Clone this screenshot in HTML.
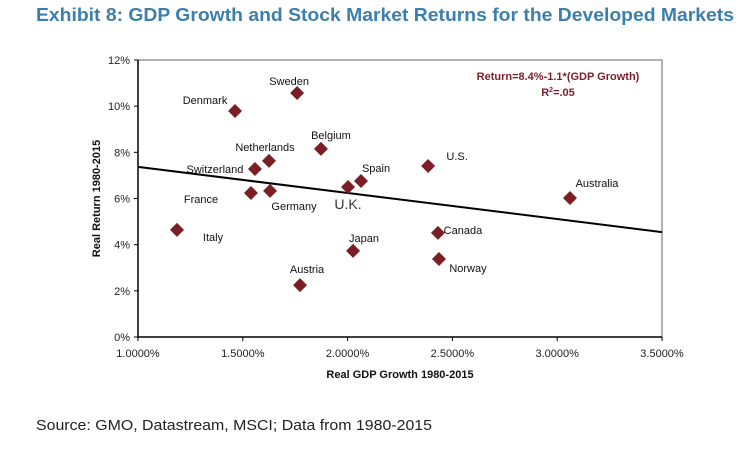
<!DOCTYPE html>
<html><head><meta charset="utf-8"><style>
body{margin:0;background:#fff;width:756px;height:446px;overflow:hidden;font-family:"Liberation Sans",sans-serif}
</style></head><body>
<svg id="chart" width="756" height="446" xmlns="http://www.w3.org/2000/svg">
<text x="36" y="21" font-size="18" font-weight="bold" fill="#3c7fae" textLength="698" lengthAdjust="spacingAndGlyphs">Exhibit 8: GDP Growth and Stock Market Returns for the Developed Markets</text>
<text x="36" y="430" font-size="15" fill="#222" textLength="396" lengthAdjust="spacingAndGlyphs">Source: GMO, Datastream, MSCI; Data from 1980-2015</text>
<g id="plot"></g>
</svg>
<script>
const countries=["Denmark","Sweden","Netherlands","Belgium","Switzerland","France","Germany","Italy","Austria","U.K.","Spain","Japan","U.S.","Canada","Norway","Australia"];
const gdpGrowth=[1.463,1.759,1.625,1.873,1.558,1.539,1.630,1.186,1.773,2.002,2.064,2.026,2.384,2.431,2.436,3.061];
const realReturn=[9.79,10.57,7.63,8.15,7.28,6.24,6.33,4.64,2.25,6.50,6.76,3.73,7.41,4.51,3.38,6.02];
const labelDx=[-30,-8,-4,10,-40,-50,24,36,7,0,15,11,29,25,29,27];
const labelDy=[-11,-12,-14,-14,0,6,15,7,-16,18,-13,-13,-10,-3,9,-15];
const xTicks=[1.0,1.5,2.0,2.5,3.0,3.5];
const yTicks=[0,2,4,6,8,10,12];
const trend=[8.5,-1.13];
const L=138,R=662,T=60,B=337;
const xs=v=>L+(v-1.0)/2.5*(R-L);
const ys=v=>B-v/12*(B-T);
const g=document.getElementById('plot');
const NS="http://www.w3.org/2000/svg";
function mk(t,a){const e=document.createElementNS(NS,t);for(const k in a)e.setAttribute(k,a[k]);g.appendChild(e);return e;}
let e=mk('path',{d:`M${L},${T}H${R}V${B}`,fill:'none',stroke:'#999','stroke-width':1.5});


e=mk('path',{d:`M${L},${T}V${B}H${R}`,fill:'none',stroke:'#000','stroke-width':1.5});


yTicks.forEach(v=>{
 const l=mk('line',{x1:L-4,x2:L,y1:ys(v),y2:ys(v),stroke:'#000'});
 
 
 const t=mk('text',{x:L-8,y:ys(v)+4,'font-size':11,'text-anchor':'end',fill:'#222'});
 t.textContent=v+'%';
 
 
});
xTicks.forEach(v=>{
 const l=mk('line',{x1:xs(v),x2:xs(v),y1:B,y2:B+4,stroke:'#000'});
 
 
 const t=mk('text',{x:xs(v),y:B+20,'font-size':11,'text-anchor':'middle',fill:'#222'});
 t.textContent=v.toFixed(4)+'%';
 
 
});
e=mk('line',{x1:xs(1.0),y1:ys(trend[0]+trend[1]*1.0),x2:xs(3.5),y2:ys(trend[0]+trend[1]*3.5),stroke:'#000','stroke-width':2});


countries.forEach((c,i)=>{
 const x=xs(gdpGrowth[i]),y=ys(realReturn[i]);
 const p=mk('path',{d:`M${x},${y-7}L${x+7},${y}L${x},${y+7}L${x-7},${y}Z`,fill:'#7b1f24'});
 
 
 const uk=c==='U.K.';
 const t=mk('text',{x:x+labelDx[i],y:y+labelDy[i]+4,'font-size':uk?14:11,'text-anchor':'middle',fill:uk?'#333':'#111'});
 t.textContent=c;
 
 
});
e=mk('text',{x:558,y:80,'font-size':11,'font-weight':'bold','text-anchor':'middle',fill:'#7b1f2e'});
e.textContent='Return=8.4%-1.1*(GDP Growth)';


e=mk('text',{x:558,y:96,'font-size':11,'font-weight':'bold','text-anchor':'middle',fill:'#7b1f2e'});
e.innerHTML='R<tspan font-size="7" dy="-4">2</tspan><tspan dy="4">=.05</tspan>';


e=mk('text',{x:400,y:378,'font-size':11,'font-weight':'bold','text-anchor':'middle',fill:'#111'});
e.textContent='Real GDP Growth 1980-2015';


e=mk('text',{x:0,y:0,'font-size':11,'font-weight':'bold','text-anchor':'middle',fill:'#111',transform:`translate(100,${(T+B)/2}) rotate(-90)`});
e.textContent='Real Return 1980-2015';


</script>
</body></html>
